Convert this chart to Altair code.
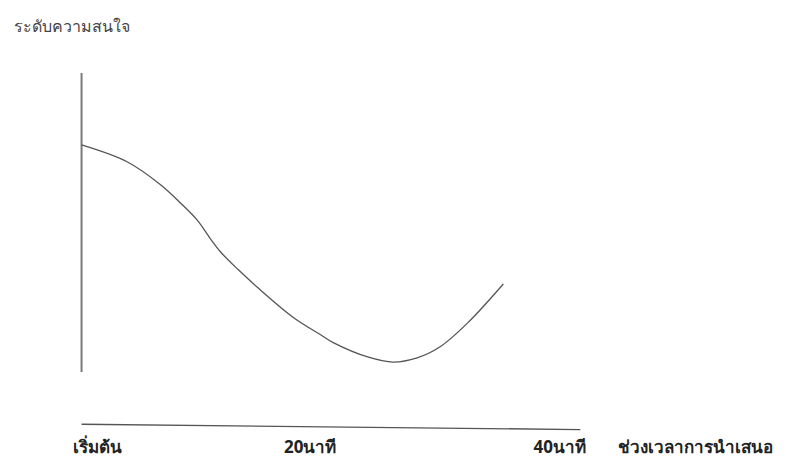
import altair as alt
import pandas as pd

# Curve of interest level over presentation time (minutes, arbitrary interest units)
curve_minutes = [0, 4.0, 6.9, 8.6, 10.1, 11.2, 12.1, 13.6, 15.3, 18.4, 20.8, 21.9, 24.9, 27.1, 29.2, 31.2, 33.6, 36.7]
curve_interest = [75.9, 70.2, 62.5, 56.5, 50.6, 44.6, 40.1, 34.3, 28.3, 18.3, 12.4, 9.8, 5.0, 3.3, 4.7, 8.4, 16.4, 29.4]

# Hand-drawn axes
y_axis_line = {"x": [0], "y": [0], "y2": [100]}
x_axis_line = {"x": [0], "x2": [43.4], "y": [-17.5], "y2": [-19.3]}

# Bottom labels
bottom_labels = ["เริ่มต้น", "20นาที", "40นาที", "ช่วงเวลาการนำเสนอ"]
bottom_label_x = [1.35, 19.9, 41.6, 53.4]
bottom_label_y = [-25.4, -25.4, -25.4, -25.4]

y_title = ["ระดับความสนใจ"]
y_title_x = [-5.9]
y_title_y = [115.4]

xs = alt.Scale(domain=[-6.4, 60.6], nice=False, zero=False)
ys = alt.Scale(domain=[-29.8, 121.7], nice=False, zero=False)

curve_df = pd.DataFrame({"t": curve_minutes, "v": curve_interest})
curve = alt.Chart(curve_df).mark_line(
    interpolate="catmull-rom", color="#555555", strokeWidth=1.3
).encode(
    x=alt.X("t:Q", scale=xs, axis=None),
    y=alt.Y("v:Q", scale=ys, axis=None),
)

vline = alt.Chart(pd.DataFrame(y_axis_line)).mark_rule(color="#7a7a7a", strokeWidth=2).encode(
    x=alt.X("x:Q", scale=xs, axis=None),
    y=alt.Y("y:Q", scale=ys, axis=None),
    y2="y2:Q",
)

hline = alt.Chart(pd.DataFrame(x_axis_line)).mark_rule(color="#555555", strokeWidth=1.4).encode(
    x=alt.X("x:Q", scale=xs, axis=None),
    x2="x2:Q",
    y=alt.Y("y:Q", scale=ys, axis=None),
    y2="y2:Q",
)

labels_df = pd.DataFrame({"label": bottom_labels, "x": bottom_label_x, "y": bottom_label_y})
labels = alt.Chart(labels_df).mark_text(
    fontSize=17, fontWeight="bold", color="#222222", align="center", baseline="middle",
    font="Noto Sans",
).encode(
    x=alt.X("x:Q", scale=xs, axis=None),
    y=alt.Y("y:Q", scale=ys, axis=None),
    text="label:N",
)

title_df = pd.DataFrame({"label": y_title, "x": y_title_x, "y": y_title_y})
title = alt.Chart(title_df).mark_text(
    fontSize=16, color="#444444", align="left", baseline="middle", font="Noto Sans",
).encode(
    x=alt.X("x:Q", scale=xs, axis=None),
    y=alt.Y("y:Q", scale=ys, axis=None),
    text="label:N",
)

chart = alt.layer(vline, hline, curve, labels, title).properties(
    width=770, height=453,
    autosize=alt.AutoSizeParams(type="none"),
    padding=0,
    background="white",
).configure_view(stroke=None)

chart.save("out.html", embed_options={"renderer": "svg", "actions": False})
